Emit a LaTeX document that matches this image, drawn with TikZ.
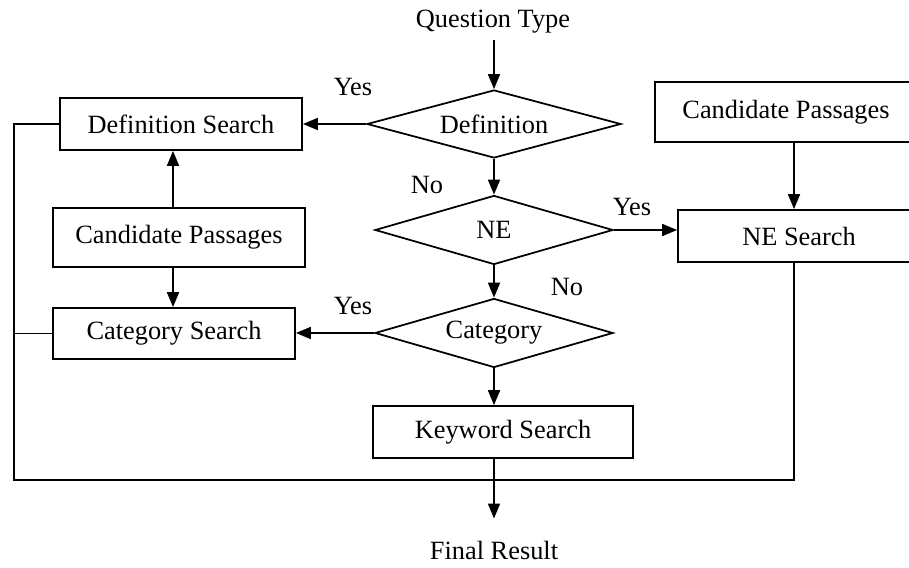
\documentclass[tikz,border=0pt]{standalone}
\usepackage{fontspec}
\setmainfont{Liberation Serif}
\usetikzlibrary{arrows.meta,shapes.geometric}

\begin{document}
\begin{tikzpicture}[
		font=\fontsize{15}{18}\selectfont,
		box/.style={draw, line width=1pt, minimum height=1.04cm, inner sep=0pt},
		test/.style={draw, diamond, aspect=3.5, line width=1pt, inner sep=0pt},
		arr/.style={-{Triangle[length=3mm,width=2.4mm]}, line width=1pt},
		wire/.style={line width=1pt}
	]
		%%%%% START %%%%%
		\useasboundingbox (0, 0) rectangle (18.18, 11.34);
		\clip (0, 0) rectangle (18.18, 11.34);
		
		\node (qtype) at (9.86, 10.90) {Question Type};
		\node[test, minimum width=5.08cm, minimum height=1.36cm] (def) at (9.88, 8.86) {Definition};
		\node[test, minimum width=4.76cm, minimum height=1.38cm] (ne) at (9.88, 6.74) {NE};
		\node[test, minimum width=4.76cm, minimum height=1.38cm] (cat) at (9.88, 4.68) {Category};
		\node[box, minimum width=5.2cm] (kw) at (10.06, 2.70) {Keyword Search};
		\node (final) at (9.88, 0.34) {Final Result};
		
		\node[box, minimum width=4.84cm] (defs) at (3.62, 8.86) {Definition Search};
		\node[box, minimum width=5.04cm, minimum height=1.18cm] (candl) at (3.58, 6.59) {Candidate Passages};
		\node[box, minimum width=4.84cm, minimum height=1.02cm] (cats) at (3.48, 4.67) {Category Search};
		
		\node[box, minimum width=5.24cm, minimum height=1.2cm] (candr) at (15.72, 9.10) {Candidate Passages};
		\node[box, minimum width=4.84cm] (nes) at (15.98, 6.62) {NE Search};
		
		\node (yes1) at (7.06, 9.60) {Yes};
		\node (no1) at (8.54, 7.64) {No};
		\node (yes2) at (12.64, 7.20) {Yes};
		\node (no2) at (11.34, 5.60) {No};
		\node (yes3) at (7.06, 5.22) {Yes};
		
		\coordinate (lc) at (0.28, 1.74);
		\coordinate (rc) at (15.88, 1.74);
		
		% main column
		\draw[arr] (qtype.south -| def.north) -- (def.north);
		\draw[arr] (def.south) -- (ne.north);
		\draw[arr] (ne.south) -- (cat.north);
		\draw[arr] (cat.south) -- (cat.south |- kw.north);
		\draw[arr] (kw.south -| cat.south) -- ([yshift=0.32cm]final.north);
		
		% yes branches
		\draw[arr] (def.west) -- (defs.east);
		\draw[arr] (ne.east) -- (ne.east -| nes.west);
		\draw[arr] (cat.west) -- (cat.west -| cats.east);
		
		% candidate passages
		\draw[arr] ([xshift=-0.12cm]candl.north) -- ([xshift=-0.12cm]candl.north |- defs.south);
		\draw[arr] ([xshift=-0.12cm]candl.south) -- ([xshift=-0.12cm]candl.south |- cats.north);
		\draw[arr] (candr.south -| rc) -- (nes.north -| rc);
		
		% collecting line
		\draw[wire] (defs.west) -- (defs.west -| lc) -- (lc) -- (rc) -- (nes.south -| rc);
		\draw[wire] (cats.west) -- (cats.west -| lc);
		
		%%%%% END %%%%%
	\end{tikzpicture}
\end{document}
